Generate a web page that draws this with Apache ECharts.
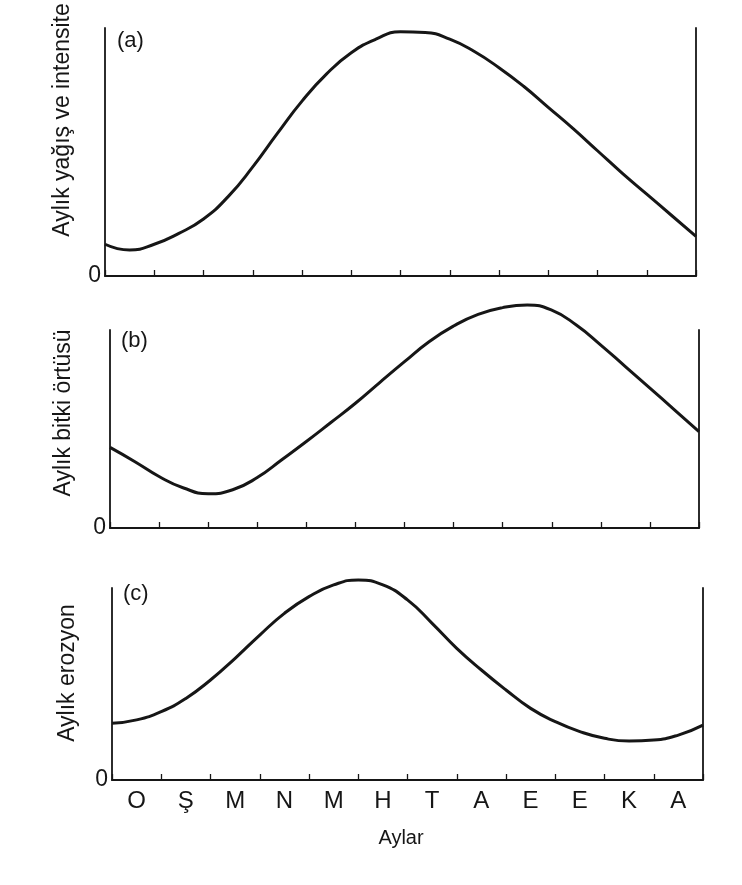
<!DOCTYPE html>
<html>
<head>
<meta charset="utf-8">
<script src="https://cdn.jsdelivr.net/npm/echarts@6/dist/echarts.min.js"></script>
<style>
html,body{margin:0;padding:0;background:#fff;}
#c{width:742px;height:885px;}
</style>
</head>
<body>
<div id="c"></div>
<script>
// Month labels (Turkish initials)
const months = ['O','Ş','M','N','M','H','T','A','E','E','K','A'];
// Sample positions: months from the left edge of the year (half-month steps)
const monthPos = [0,0.5,1,1.5,2,2.5,3,3.5,4,4.5,5,5.5,6,6.5,7,7.5,8,8.5,9,9.5,10,10.5,11,11.5,12];
// (a) Monthly rainfall & intensity (relative; axis top = 100)
const rainY = [12.8,10.5,12.8,17.2,23,32,44,57.5,70.5,81.5,90,95.5,98.5,98.2,95.5,90.5,84,76.5,68,59.5,50.5,41.5,33,24.5,16];
// (b) Monthly vegetation cover
const vegY = [40.7,33.6,26,20.2,17.3,19.3,25.5,34.5,43.7,53.3,63,73.6,84,94.1,102,107.9,111.3,112.6,110,102.5,92.4,81.5,70.6,59.7,48.7];
// (c) Monthly erosion
const eroY = [29.5,31.3,35.6,42.5,52.1,63.4,75.5,86.8,95.5,101.6,104.2,101.6,93.8,81.6,68.6,57.3,46.9,37.3,30.4,25.2,21.7,20.3,20.8,23.4,28.6];
// Axis titles
const yNames = ['Aylık yağış ve intensite', 'Aylık bitki örtüsü', 'Aylık erozyon'];
const panelTags = ['(a)', '(b)', '(c)'];
const xName = 'Aylar';

const pairs = (xs, ys) => xs.map((x, i) => [x, ys[i]]);
const FONT = "'Liberation Sans', Arial, sans-serif";
const INK = '#161616';

const grids = [
  {left: 105, right: 46, top: 28, height: 248},
  {left: 110, right: 43, top: 330, height: 198},
  {left: 112, right: 39, top: 588, height: 192}
];

const xAxes = [], yAxes = [], series = [];
const datasets = [pairs(monthPos, rainY), pairs(monthPos, vegY), pairs(monthPos, eroY)];
grids.forEach((g, i) => {
  // hidden numeric axis for the curve
  xAxes.push({gridIndex: i, type: 'value', min: 0, max: 12, show: false});
  // category axis for ticks and month labels
  xAxes.push({
    gridIndex: i, type: 'category', position: 'bottom', boundaryGap: true,
    data: months.map((m, k) => String(k)),
    axisLine: {show: true, lineStyle: {color: INK, width: 1.8}},
    axisTick: {show: true, inside: true, length: 6, lineStyle: {color: INK, width: 1.3}},
    axisLabel: {show: i === 2, formatter: (v, k) => months[k], fontFamily: FONT, fontSize: 24, color: INK, margin: 9},
    splitLine: {show: false}
  });
  yAxes.push({
    gridIndex: i, type: 'value', min: 0, max: 100, interval: 100, position: 'left',
    axisLine: {show: true, lineStyle: {color: INK, width: 1.8}},
    axisTick: {show: false}, splitLine: {show: false},
    axisLabel: {formatter: v => v === 0 ? '0' : '', fontFamily: FONT, fontSize: 23, color: INK, margin: 4}
  });
  yAxes.push({
    gridIndex: i, type: 'value', min: 0, max: 100, position: 'right',
    axisLine: {show: true, lineStyle: {color: INK, width: 1.8}},
    axisTick: {show: false}, splitLine: {show: false}, axisLabel: {show: false}
  });
  series.push({
    type: 'line', xAxisIndex: i * 2, yAxisIndex: i * 2,
    data: datasets[i], smooth: true, showSymbol: false, clip: false,
    lineStyle: {color: INK, width: 3}
  });
});

const nameCenters = [[63, 120], [64, 413], [68, 673]];
const tagPos = [[117, 41], [121, 341], [123, 594]];
const graphic = [];
yNames.forEach((t, i) => {
  graphic.push({
    type: 'text', x: nameCenters[i][0], y: nameCenters[i][1], rotation: Math.PI / 2,
    style: {text: t, font: '23px ' + FONT, fill: INK, textAlign: 'center', textVerticalAlign: 'middle'}
  });
  graphic.push({
    type: 'text', x: tagPos[i][0], y: tagPos[i][1],
    style: {text: panelTags[i], font: '22px ' + FONT, fill: INK, textAlign: 'left', textVerticalAlign: 'middle'}
  });
});
graphic.push({
  type: 'text', x: 401, y: 838,
  style: {text: xName, font: '20px ' + FONT, fill: INK, textAlign: 'center', textVerticalAlign: 'middle'}
});

const chart = echarts.init(document.getElementById('c'), null, {renderer: 'canvas'});
chart.setOption({
  backgroundColor: '#ffffff',
  animation: false,
  grid: grids,
  xAxis: xAxes,
  yAxis: yAxes,
  series: series,
  graphic: graphic
});
</script>
</body>
</html>
